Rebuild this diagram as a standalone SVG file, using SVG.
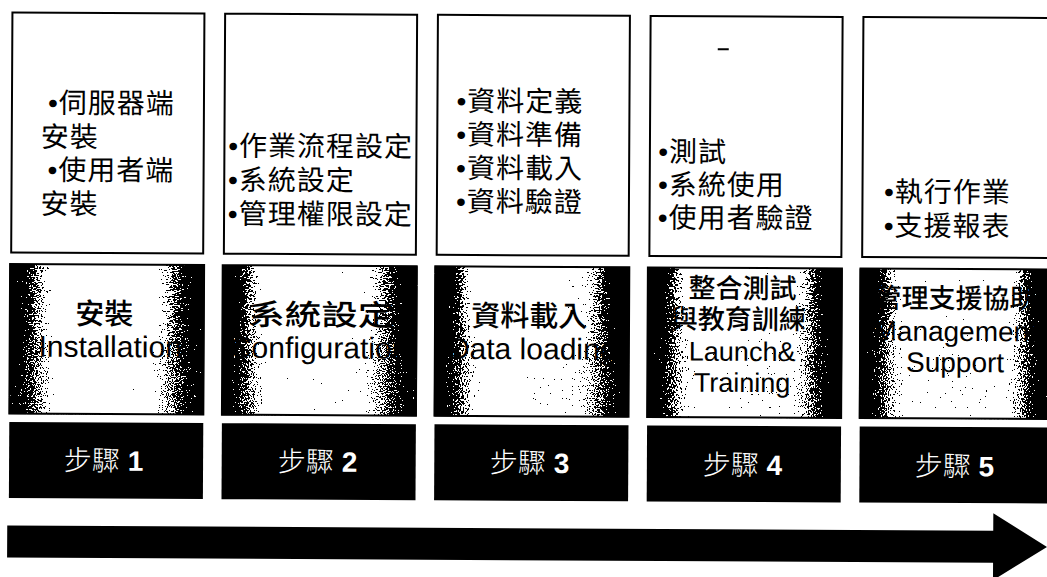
<svg xmlns="http://www.w3.org/2000/svg" width="1047" height="577" viewBox="0 0 1047 577">
<style>
.box{fill:#fff;stroke:#000;stroke-width:2}
.tx{font-family:"Liberation Sans","Noto Sans CJK TC",sans-serif;font-size:28px;letter-spacing:1px;fill:#000}
.mid{fill:url(#edge);filter:url(#speckle)}
.midb{fill:none;stroke:#000;stroke-width:2}
.mc{font-family:"Liberation Sans","Noto Sans CJK TC",sans-serif;font-size:29px;font-weight:500;text-anchor:middle;fill:#000}
.mc2{font-family:"Liberation Sans","Noto Sans CJK TC",sans-serif;font-size:27px;font-weight:500;text-anchor:middle;fill:#000}
.me{font-family:"Liberation Sans",sans-serif;font-size:30px;text-anchor:middle;fill:#000}
.me2{font-family:"Liberation Sans",sans-serif;font-size:28px;text-anchor:middle;fill:#000}
.me3{font-family:"Liberation Sans",sans-serif;font-size:27px;text-anchor:middle;fill:#000}
.blk{fill:#000}
.st{font-family:"Liberation Sans","Noto Sans CJK TC",sans-serif;font-size:28px;font-weight:300;fill:#fff;text-anchor:middle}
.num{font-family:"Liberation Sans",sans-serif;font-weight:bold}
</style>
<defs>
<linearGradient id="edge" x1="0" y1="0" x2="1" y2="0">
<stop offset="0" stop-color="#000"/>
<stop offset="0.03" stop-color="#000"/>
<stop offset="0.25" stop-color="#fff"/>
<stop offset="0.73" stop-color="#fff"/>
<stop offset="0.95" stop-color="#000"/>
<stop offset="1" stop-color="#000"/>
</linearGradient>
<filter id="speckle" x="0" y="0" width="1" height="1" color-interpolation-filters="sRGB">
<feTurbulence type="fractalNoise" baseFrequency="0.85" numOctaves="2" seed="7" result="n"/>
<feColorMatrix in="n" type="matrix" values="1 0 0 0 0 1 0 0 0 0 1 0 0 0 0 0 0 0 0 1" result="g"/>
<feComposite in="SourceGraphic" in2="g" operator="arithmetic" k1="0" k2="1" k3="2.2" k4="-1.1" result="s"/>
<feComponentTransfer in="s">
<feFuncR type="discrete" tableValues="0 1"/>
<feFuncG type="discrete" tableValues="0 1"/>
<feFuncB type="discrete" tableValues="0 1"/>
</feComponentTransfer>
</filter>
</defs>
<rect width="1047" height="577" fill="#fff"/>
<g transform="rotate(0.3)">
<!-- detail boxes -->
<g id="detail1">
<rect class="box" x="12.5" y="12.5" width="192" height="240"/>
<text class="tx" x="48.5" y="112.5">•伺服器端</text>
<text class="tx" x="41.5" y="146.5">安裝</text>
<text class="tx" x="48.5" y="179.5">•使用者端</text>
<text class="tx" x="41.5" y="213.5">安裝</text>
</g>
<g id="detail2">
<rect class="box" x="225.2" y="12.5" width="192" height="240"/>
<text class="tx" x="229" y="154.5">•作業流程設定</text>
<text class="tx" x="229" y="188.5">•系統設定</text>
<text class="tx" x="229" y="222.5">•管理權限設定</text>
</g>
<g id="detail3">
<rect class="box" x="438" y="12.5" width="192" height="240"/>
<text class="tx" x="457" y="108.5">•資料定義</text>
<text class="tx" x="457" y="142">•資料準備</text>
<text class="tx" x="457" y="175.5">•資料載入</text>
<text class="tx" x="457" y="209">•資料驗證</text>
</g>
<g id="detail4">
<rect class="box" x="650.7" y="12.5" width="192" height="240"/>
<rect x="718" y="44.5" width="11" height="2" fill="#000"/>
<text class="tx" x="659" y="158">•測試</text>
<text class="tx" x="659" y="191">•系統使用</text>
<text class="tx" x="659" y="224">•使用者驗證</text>
</g>
<g id="detail5">
<rect class="box" x="863.5" y="12.5" width="192" height="240"/>
<text class="tx" x="885" y="197">•執行作業</text>
<text class="tx" x="885" y="231">•支援報表</text>
</g>
<!-- phase boxes -->
<g id="phase1">
<rect class="mid" x="11.5" y="264" width="194" height="149.5"/>
<rect class="midb" x="11.5" y="264" width="194" height="149.5"/>
<text class="mc" x="106" y="323.5">安裝</text>
<text class="me" x="112" y="356.5">Installation</text>
</g>
<g id="phase2">
<rect class="mid" x="224.1" y="264" width="194" height="149.5"/>
<rect class="midb" x="224.1" y="264" width="194" height="149.5"/>
<text class="mc" x="323" y="323.5" textLength="146" lengthAdjust="spacingAndGlyphs">系統設定</text>
<text class="me" x="321" y="356.5">Configuration</text>
</g>
<g id="phase3">
<rect class="mid" x="436.7" y="264" width="194" height="149.5"/>
<rect class="midb" x="436.7" y="264" width="194" height="149.5"/>
<text class="mc" x="531" y="323.5">資料載入</text>
<text class="me" x="534" y="356.5">Data loading</text>
</g>
<g id="phase4">
<rect class="mid" x="649.3" y="264" width="194" height="149.5"/>
<rect class="midb" x="649.3" y="264" width="194" height="149.5"/>
<text class="mc2" x="744" y="294">整合測試</text>
<text class="mc2" x="740" y="325">與教育訓練</text>
<text class="me3" x="744" y="357">Launch&amp;</text>
<text class="me3" x="744" y="388">Training</text>
</g>
<g id="phase5">
<rect class="mid" x="861.9" y="264" width="194" height="149.5"/>
<rect class="midb" x="861.9" y="264" width="194" height="149.5"/>
<text class="mc2" x="957" y="303">管理支援協助</text>
<text class="me2" x="957" y="336">Management</text>
<text class="me2" x="957" y="367">Support</text>
</g>
<!-- step labels -->
<g id="step1">
<rect class="blk" x="11.5" y="422" width="194" height="76"/>
<text class="st" x="106" y="470">步驟 <tspan class="num">1</tspan></text>
</g>
<g id="step2">
<rect class="blk" x="224.1" y="422" width="194" height="76"/>
<text class="st" x="320" y="470">步驟 <tspan class="num">2</tspan></text>
</g>
<g id="step3">
<rect class="blk" x="436.7" y="422" width="194" height="76"/>
<text class="st" x="532" y="470">步驟 <tspan class="num">3</tspan></text>
</g>
<g id="step4">
<rect class="blk" x="649.3" y="422" width="194" height="76"/>
<text class="st" x="745" y="471">步驟 <tspan class="num">4</tspan></text>
</g>
<g id="step5">
<rect class="blk" x="861.9" y="422" width="194" height="76"/>
<text class="st" x="957" y="471">步驟 <tspan class="num">5</tspan></text>
</g>
<!-- timeline arrow -->
<g id="connectors">
<polygon points="10,525.5 996,525.5 996,508 1050,541.5 996,575 996,557.5 10,557.5" fill="#000"/>
</g>
</g>
</svg>
